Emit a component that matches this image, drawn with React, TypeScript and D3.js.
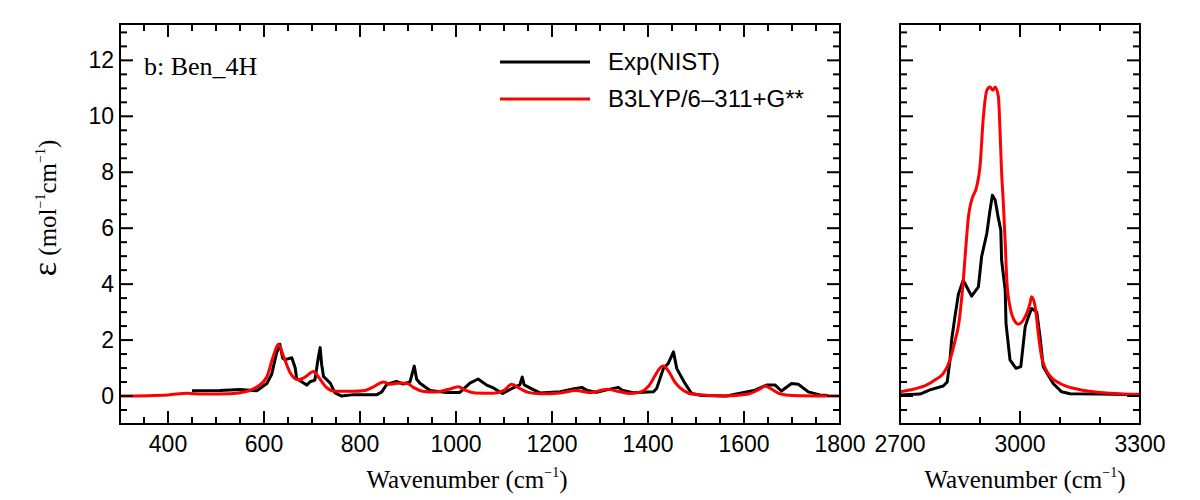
import React from "react";
import * as d3 from "d3";

// ---- data (wavenumber cm^-1, epsilon) ----
const expLow: [number, number][] = [
  [450, 0.19], [508, 0.2], [550, 0.23], [585, 0.19], [606, 0.45], [616, 0.78], [626, 1.52],
  [633, 1.85], [639, 1.35], [644, 1.3], [658, 1.37], [665, 1.0], [668, 0.63], [689, 0.39],
  [696, 0.51], [706, 0.57], [713, 1.36], [717, 1.73], [720, 1.14], [724, 0.7], [738, 0.46],
  [748, 0.11], [762, 0.0], [786, 0.05], [835, 0.05], [845, 0.14], [856, 0.42], [876, 0.52],
  [890, 0.43], [904, 0.5], [913, 1.07], [918, 0.6], [925, 0.46], [946, 0.2], [980, 0.13],
  [1008, 0.13], [1029, 0.46], [1046, 0.61], [1064, 0.39], [1078, 0.29], [1097, 0.09],
  [1119, 0.29], [1133, 0.4], [1138, 0.68], [1142, 0.4], [1161, 0.23], [1175, 0.11],
  [1217, 0.15], [1244, 0.25], [1262, 0.31], [1272, 0.21], [1293, 0.13], [1314, 0.22],
  [1338, 0.31], [1346, 0.21], [1369, 0.12], [1411, 0.15], [1418, 0.27], [1432, 0.98],
  [1442, 1.16], [1453, 1.58], [1460, 0.98], [1477, 0.45], [1491, 0.09], [1512, 0.02],
  [1564, 0.0], [1592, 0.1], [1623, 0.21], [1647, 0.39], [1665, 0.39], [1678, 0.18],
  [1699, 0.45], [1713, 0.42], [1734, 0.15], [1758, 0.04], [1775, 0.02],
];

const calcLow: [number, number][] = [
  [300, 0.0], [400, 0.04], [440, 0.1], [470, 0.07], [530, 0.08], [565, 0.17], [585, 0.32],
  [606, 0.69], [619, 1.4], [630, 1.85], [640, 1.45], [654, 0.85], [671, 0.58], [685, 0.67],
  [703, 0.88], [713, 0.69], [730, 0.31], [748, 0.17], [786, 0.17], [810, 0.2], [828, 0.33],
  [849, 0.5], [862, 0.42], [885, 0.47], [897, 0.46], [912, 0.3], [930, 0.17], [955, 0.14],
  [985, 0.24], [1005, 0.33], [1020, 0.2], [1040, 0.11], [1078, 0.1], [1099, 0.19],
  [1116, 0.42], [1133, 0.27], [1150, 0.13], [1175, 0.08], [1217, 0.11], [1250, 0.2],
  [1279, 0.12], [1315, 0.24], [1342, 0.15], [1362, 0.09], [1385, 0.15], [1401, 0.35],
  [1415, 0.74], [1425, 1.01], [1433, 1.07], [1442, 0.91], [1456, 0.5], [1474, 0.2],
  [1495, 0.06], [1560, 0.0], [1606, 0.06], [1633, 0.25], [1644, 0.36], [1657, 0.25],
  [1675, 0.08], [1700, 0.02], [1800, 0.0],
];

const expHigh: [number, number][] = [
  [2700, 0.04], [2750, 0.07], [2775, 0.22], [2808, 0.36], [2818, 0.5], [2825, 1.29],
  [2829, 2.0], [2838, 2.9], [2846, 3.64], [2858, 4.14], [2867, 3.9], [2879, 3.57],
  [2896, 3.9], [2904, 4.98], [2917, 5.81], [2925, 6.64], [2931, 7.18], [2938, 7.0],
  [2946, 6.35], [2952, 5.93], [2954, 4.86], [2963, 3.79], [2965, 2.6], [2975, 1.29],
  [2990, 0.99], [3002, 1.05], [3013, 2.48], [3021, 2.83], [3029, 3.13], [3042, 3.0],
  [3050, 2.12], [3058, 1.05], [3083, 0.45], [3104, 0.15], [3125, 0.08], [3200, 0.07],
  [3300, 0.05],
];

const calcHigh: [number, number][] = [
  [2700, 0.15], [2735, 0.25], [2767, 0.4], [2790, 0.6], [2808, 0.8], [2825, 1.29],
  [2838, 2.0], [2846, 2.5], [2858, 4.1], [2865, 5.4], [2871, 6.4], [2879, 7.0], [2892, 7.5],
  [2900, 8.2], [2908, 9.9], [2917, 10.93], [2925, 11.05], [2932, 10.93], [2938, 11.05],
  [2946, 10.7], [2950, 9.5], [2954, 8.0], [2958, 7.0], [2963, 5.5], [2967, 4.14],
  [2975, 3.19], [2988, 2.65], [2996, 2.57], [3008, 2.71], [3025, 3.31], [3029, 3.55],
  [3038, 3.19], [3046, 2.2], [3054, 1.4], [3063, 1.0], [3079, 0.65], [3100, 0.45],
  [3142, 0.25], [3225, 0.1], [3300, 0.06],
];

const leftMajorX = [400, 600, 800, 1000, 1200, 1400, 1600, 1800];
const rightMajorX = [2700, 3000, 3300];
const yMajor = [0, 2, 4, 6, 8, 10, 12];

const seriesNames = ["Exp(NIST)", "B3LYP/6\u2013311+G**"];
const panelLabel = "b: Ben_4H";

// ---- layout ----
const TOP = 24;
const BOTTOM = 424;
const L = { x0: 120, x1: 840, d0: 300, d1: 1800, minor: 50 };
const R = { x0: 900, x1: 1140, d0: 2700, d1: 3300, minor: 100 };

const SANS = "'Liberation Sans', Arial, Helvetica, sans-serif";
const SERIF = "'Liberation Serif', 'Times New Roman', serif";

const y = d3.scaleLinear().domain([-1, 13.3]).range([BOTTOM, TOP]);

function Panel({ cfg, majors, exp, calc, showYLabels, id }: any) {
  const x = d3.scaleLinear().domain([cfg.d0, cfg.d1]).range([cfg.x0, cfg.x1]);
  const lineExp = d3.line<[number, number]>().x((d) => x(d[0])).y((d) => y(d[1]));
  const lineCalc = d3
    .line<[number, number]>()
    .x((d) => x(d[0]))
    .y((d) => y(d[1]))
    .curve(d3.curveMonotoneX);
  const minorX = d3.range(cfg.d0, cfg.d1 + 0.1, cfg.minor).filter((v) => !majors.includes(v));
  const yMinor = d3.range(-1, 13.01, 0.5).filter((v) => !yMajor.includes(v));
  const MAJ = 13;
  const MIN = 7;
  return (
    <g>
      <defs>
        <clipPath id={id}>
          <rect x={cfg.x0} y={TOP} width={cfg.x1 - cfg.x0} height={BOTTOM - TOP} />
        </clipPath>
      </defs>
      <g clipPath={`url(#${id})`}>
        <path d={lineExp(exp) || ""} fill="none" stroke="#000" strokeWidth={3} strokeLinejoin="round" />
        <path d={lineCalc(calc) || ""} fill="none" stroke="#ff0000" strokeWidth={3} strokeLinejoin="round" />
      </g>
      <g stroke="#000" strokeWidth={2}>
        {majors.map((v: number) => (
          <g key={"mx" + v}>
            <line x1={x(v)} x2={x(v)} y1={BOTTOM} y2={BOTTOM - MAJ} />
            <line x1={x(v)} x2={x(v)} y1={TOP} y2={TOP + MAJ} />
          </g>
        ))}
        {minorX.map((v: number) => (
          <g key={"nx" + v}>
            <line x1={x(v)} x2={x(v)} y1={BOTTOM} y2={BOTTOM - MIN} />
            <line x1={x(v)} x2={x(v)} y1={TOP} y2={TOP + MIN} />
          </g>
        ))}
        {yMajor.map((v) => (
          <g key={"my" + v}>
            <line x1={cfg.x0} x2={cfg.x0 + MAJ} y1={y(v)} y2={y(v)} />
            <line x1={cfg.x1} x2={cfg.x1 - MAJ} y1={y(v)} y2={y(v)} />
          </g>
        ))}
        {yMinor.map((v) => (
          <g key={"ny" + v}>
            <line x1={cfg.x0} x2={cfg.x0 + MIN} y1={y(v)} y2={y(v)} />
            <line x1={cfg.x1} x2={cfg.x1 - MIN} y1={y(v)} y2={y(v)} />
          </g>
        ))}
        <rect x={cfg.x0} y={TOP} width={cfg.x1 - cfg.x0} height={BOTTOM - TOP} fill="none" />
      </g>
      <g fontFamily={SANS} fontSize={23} fill="#000">
        {majors.map((v: number) => (
          <text key={"lx" + v} x={x(v)} y={452} textAnchor="middle">
            {v}
          </text>
        ))}
        {showYLabels &&
          yMajor.map((v) => (
            <text key={"ly" + v} x={cfg.x0 - 6} y={y(v) + 8} textAnchor="end">
              {v}
            </text>
          ))}
      </g>
    </g>
  );
}

export default function App() {
  return (
    <svg
      width={1200}
      height={500}
      style={{ position: "absolute", left: 0, top: 0, background: "#fff" }}
    >
      <rect x={0} y={0} width={1200} height={500} fill="#fff" />
      <Panel cfg={L} majors={leftMajorX} exp={expLow} calc={calcLow} showYLabels={true} id="clipL" />
      <Panel cfg={R} majors={rightMajorX} exp={expHigh} calc={calcHigh} showYLabels={false} id="clipR" />

      <text x={144} y={75} fontFamily={SERIF} fontSize={26}>
        {panelLabel}
      </text>

      <line x1={500} x2={590} y1={62} y2={62} stroke="#000" strokeWidth={3} />
      <text x={608} y={70} fontFamily={SANS} fontSize={24}>
        {seriesNames[0]}
      </text>
      <line x1={500} x2={590} y1={99} y2={99} stroke="#ff0000" strokeWidth={3} />
      <text x={608} y={107} fontFamily={SANS} fontSize={24}>
        {seriesNames[1]}
      </text>

      <text x={467} y={488} fontFamily={SERIF} fontSize={25} textAnchor="middle">
        Wavenumber (cm
        <tspan fontSize={14} dy={-11}>{"\u22121"}</tspan>
        <tspan dy={11}>)</tspan>
      </text>
      <text x={1025} y={488} fontFamily={SERIF} fontSize={25} textAnchor="middle">
        Wavenumber (cm
        <tspan fontSize={14} dy={-11}>{"\u22121"}</tspan>
        <tspan dy={11}>)</tspan>
      </text>

      <text
        transform="translate(56,208) rotate(-90)"
        fontFamily={SERIF}
        fontSize={25}
        textAnchor="middle"
      >
        <tspan fontSize={34}>{"\u03b5"}</tspan>
        <tspan> (mol</tspan>
        <tspan fontSize={14} dy={-11}>{"\u22121"}</tspan>
        <tspan dy={11}>cm</tspan>
        <tspan fontSize={14} dy={-11}>{"\u22121"}</tspan>
        <tspan dy={11}>)</tspan>
      </text>
    </svg>
  );
}
